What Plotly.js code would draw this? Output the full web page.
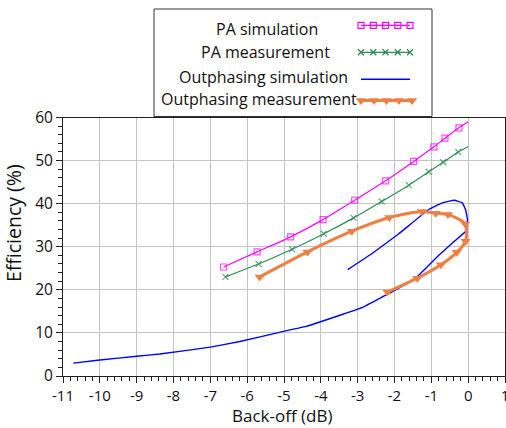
<!DOCTYPE html>
<html>
<head>
<meta charset="utf-8">
<script src="https://cdn.plot.ly/plotly-3.0.1.min.js"></script>
<style>html,body{margin:0;padding:0;background:#fff;}#chart{width:506px;height:428px;}</style>
</head>
<body>
<div id="chart"></div>
<script>
// ---- data ----
var seriesNames = ["PA simulation", "PA measurement", "Outphasing simulation", "Outphasing measurement"];

var paSimX = [-6.64, -5.73, -4.82, -3.94, -3.08, -2.24, -1.48, -0.93, -0.63, -0.25, 0.0];
var paSimY = [25.3, 28.8, 32.3, 36.3, 40.8, 45.3, 49.8, 53.2, 55.2, 57.6, 59.0];

var paMeasX = [-6.59, -5.69, -4.78, -3.92, -3.11, -2.35, -1.61, -1.07, -0.68, -0.27, 0.0];
var paMeasY = [23.0, 26.0, 29.4, 33.0, 36.7, 40.5, 44.3, 47.4, 49.6, 52.0, 53.2];

var outSimX = [-10.72, -10.0, -9.0, -8.37, -7.0, -6.2, -5.1, -4.4, -2.85, -2.23, -1.6, -1.38, -0.79, -0.4, -0.06, -0.02, -0.07, -0.16, -0.38, -0.7, -1.06, -1.9, -2.6, -3.27];
var outSimY = [3.0, 3.7, 4.6, 5.1, 6.7, 8.0, 10.2, 11.5, 16.0, 18.8, 21.8, 23.1, 28.1, 31.1, 33.7, 36.3, 38.6, 40.2, 40.8, 40.2, 38.7, 32.9, 28.5, 24.7];

var outMeasX = [-5.66, -4.36, -3.16, -2.14, -1.26, -0.88, -0.55, -0.08, -0.07, -0.31, -0.74, -1.38, -2.19];
var outMeasY = [23.0, 28.8, 33.6, 36.8, 38.2, 37.8, 37.5, 35.3, 31.3, 28.7, 25.8, 22.7, 19.5];

var xTickVals = [-11, -10, -9, -8, -7, -6, -5, -4, -3, -2, -1, 0, 1];
var yTickVals = [0, 10, 20, 30, 40, 50, 60];

// ---- styles ----
var cMag = '#FF00FF', cGreen = '#2E8B57', cBlue = '#0000FF', cOrange = '#F07F42';
var FONT = 'Open Sans, Noto Sans, sans-serif';

function sizesNoLast(arr, s) { return arr.map(function (_, i) { return i === arr.length - 1 ? 0 : s; }); }

var traces = [
  { x: paSimX, y: paSimY, mode: 'lines+markers', type: 'scatter',
    line: { color: cMag, width: 1.2, shape: 'spline', smoothing: 0.6 },
    marker: { symbol: 'square-open', size: sizesNoLast(paSimX, 6), color: cMag, line: { width: 1.2, color: cMag } },
    showlegend: false, cliponaxis: false },
  { x: paMeasX, y: paMeasY, mode: 'lines+markers', type: 'scatter',
    line: { color: cGreen, width: 1.2, shape: 'spline', smoothing: 0.6 },
    marker: { symbol: 'x-thin-open', size: sizesNoLast(paMeasX, 6), color: cGreen, line: { width: 1.3, color: cGreen } },
    showlegend: false, cliponaxis: false },
  { x: outSimX, y: outSimY, mode: 'lines', type: 'scatter',
    line: { color: cBlue, width: 1.4, shape: 'spline', smoothing: 0.3 },
    showlegend: false, cliponaxis: false },
  { x: outMeasX, y: outMeasY, mode: 'lines+markers', type: 'scatter',
    line: { color: cOrange, width: 3, shape: 'spline', smoothing: 0.7 },
    marker: { symbol: 'triangle-down', size: 9, color: cOrange },
    showlegend: false, cliponaxis: false }
];

// ---- custom legend (symbols on the right) on an overlay axis in pixel units ----
var legRowsLine = [25.3, 52.3, 79.3, 100.5];
var legRowsText = [28.5, 52, 77, 98.5];
var legTextX = [267, 265.5, 263.5, 258.5];
var sampleX = [361, 373.25, 385.5, 397.75, 410];
var sampleXOr = [361, 374, 386.5, 399, 412];
function rowY(v, n) { var a = []; for (var i = 0; i < n; i++) a.push(v); return a; }

traces.push(
  { x: sampleX, y: rowY(legRowsLine[0], 5), xaxis: 'x2', yaxis: 'y2', mode: 'lines+markers', showlegend: false, hoverinfo: 'skip',
    line: { color: cMag, width: 1.2 }, marker: { symbol: 'square-open', size: 6, color: cMag, line: { width: 1.2, color: cMag } } },
  { x: sampleX, y: rowY(legRowsLine[1], 5), xaxis: 'x2', yaxis: 'y2', mode: 'lines+markers', showlegend: false, hoverinfo: 'skip',
    line: { color: cGreen, width: 1.2 }, marker: { symbol: 'x-thin-open', size: 6, color: cGreen, line: { width: 1.3, color: cGreen } } },
  { x: [sampleX[0], sampleX[4]], y: rowY(legRowsLine[2], 2), xaxis: 'x2', yaxis: 'y2', mode: 'lines', showlegend: false, hoverinfo: 'skip',
    line: { color: cBlue, width: 1.4 } },
  { x: sampleXOr, y: rowY(legRowsLine[3], 5), xaxis: 'x2', yaxis: 'y2', mode: 'lines+markers', showlegend: false, hoverinfo: 'skip',
    line: { color: cOrange, width: 3 }, marker: { symbol: 'triangle-down', size: 9, color: cOrange } }
);

var annotations = seriesNames.map(function (n, i) {
  return { text: n, x: legTextX[i], y: legRowsText[i], xref: 'x2', yref: 'y2', xanchor: 'center', yanchor: 'middle',
    showarrow: false, borderpad: 0, font: { family: FONT, size: 16, color: '#111' } };
});
annotations.push(
  { text: 'Efficiency (%)', xref: 'paper', yref: 'paper', x: -0.1129, y: 0.4069, textangle: -90,
    xanchor: 'center', yanchor: 'middle', showarrow: false, borderpad: 0, font: { family: FONT, size: 19.5, color: '#111' } },
  { text: 'Back-off (dB)', xref: 'paper', yref: 'paper', x: 0.4955, y: -0.105,
    xanchor: 'center', yanchor: 'middle', showarrow: false, borderpad: 0, font: { family: FONT, size: 17, color: '#111' } }
);

var layout = {
  width: 506, height: 428,
  margin: { l: 63, r: 1, t: 0, b: 52, pad: 0 },
  paper_bgcolor: '#fff', plot_bgcolor: '#fff',
  showlegend: false,
  xaxis: {
    range: [-11, 1], tickvals: xTickVals, ticktext: xTickVals.map(String),
    showgrid: true, gridcolor: '#C4C4C4', gridwidth: 1, zeroline: false,
    showline: true, linecolor: '#222', linewidth: 1, mirror: true,
    ticks: 'outside', ticklen: 6, tickcolor: '#222', tickwidth: 1,
    ticklabeloverflow: 'allow',
    minor: { dtick: 0.2, ticks: 'outside', ticklen: 4, tickcolor: '#222', showgrid: false },
    tickfont: { family: FONT, size: 15, color: '#111' }, fixedrange: true
  },
  yaxis: {
    domain: [0, 0.6875], range: [0, 60], tickvals: yTickVals,
    showgrid: true, gridcolor: '#C4C4C4', gridwidth: 1, zeroline: false,
    showline: true, linecolor: '#222', linewidth: 1, mirror: true,
    ticks: 'outside', ticklen: 6, tickcolor: '#222', tickwidth: 1,
    minor: { dtick: 2, ticks: 'outside', ticklen: 4, tickcolor: '#222', showgrid: false },
    tickfont: { family: FONT, size: 15.5, color: '#111' }, fixedrange: true
  },
  xaxis2: { domain: [0, 1], range: [63, 505], anchor: 'y2', visible: false, fixedrange: true },
  yaxis2: { domain: [0.6875, 1], range: [117.5, 0], anchor: 'x2', visible: false, fixedrange: true },
  shapes: [
    { type: 'rect', xref: 'x2', yref: 'y2', x0: 154, x1: 432, y0: 9, y1: 116.5,
      line: { color: '#333', width: 1 }, fillcolor: 'rgba(0,0,0,0)' }
  ],
  annotations: annotations
};

Plotly.newPlot('chart', traces, layout, { displayModeBar: false, staticPlot: true });
</script>
</body>
</html>
